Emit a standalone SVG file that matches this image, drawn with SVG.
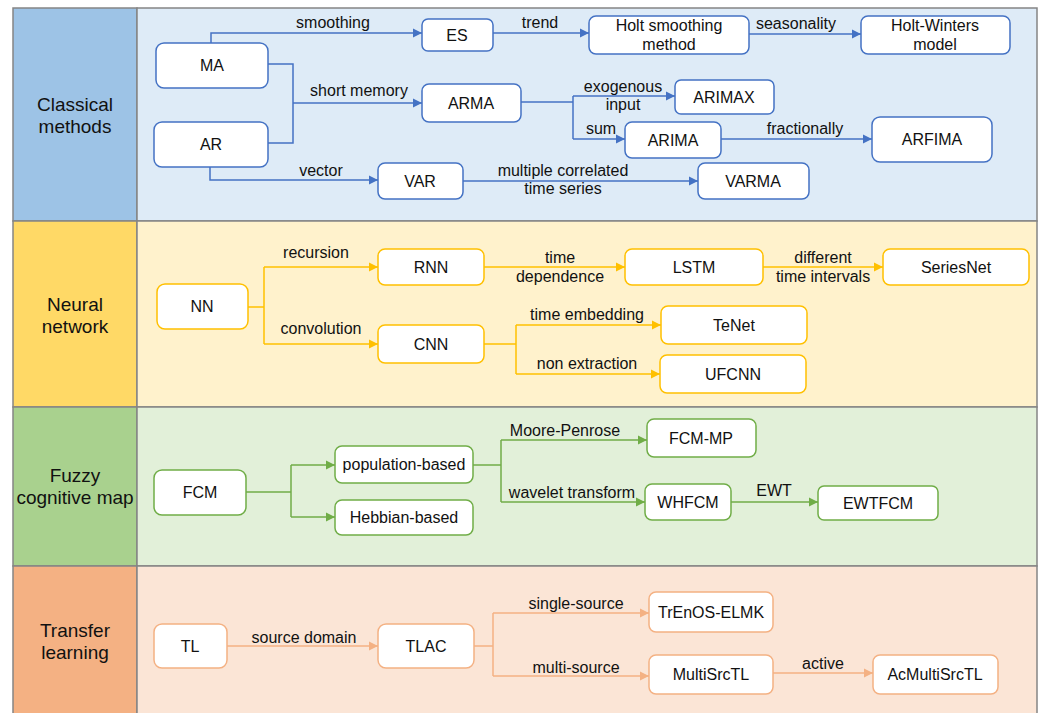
<svg xmlns="http://www.w3.org/2000/svg" width="1040" height="713" viewBox="0 0 1040 713">
<defs>
<style>
text{font-family:"Liberation Sans",Arial,sans-serif;fill:#111;}
.band{font-size:19px;text-anchor:middle;}
.nt{font-size:16px;text-anchor:middle;}
.lb{font-size:16px;text-anchor:middle;}
.frame{stroke:#858585;stroke-width:1.5;}
.n{fill:#fff;stroke-width:1.5;}
.bl{stroke:#4472C4;} .yl{stroke:#FFC000;} .gr{stroke:#70AD47;} .or{stroke:#F4B183;}
.c{fill:none;stroke-width:1.5;}
</style>
<marker id="ab" viewBox="0 0 10 10" refX="10" refY="5" markerWidth="9" markerHeight="10" markerUnits="userSpaceOnUse" orient="auto"><path d="M0,0L10,5L0,10z" fill="#4472C4"/></marker>
<marker id="ay" viewBox="0 0 10 10" refX="10" refY="5" markerWidth="9" markerHeight="10" markerUnits="userSpaceOnUse" orient="auto"><path d="M0,0L10,5L0,10z" fill="#FFC000"/></marker>
<marker id="ag" viewBox="0 0 10 10" refX="10" refY="5" markerWidth="9" markerHeight="10" markerUnits="userSpaceOnUse" orient="auto"><path d="M0,0L10,5L0,10z" fill="#70AD47"/></marker>
<marker id="ao" viewBox="0 0 10 10" refX="10" refY="5" markerWidth="9" markerHeight="10" markerUnits="userSpaceOnUse" orient="auto"><path d="M0,0L10,5L0,10z" fill="#F4B183"/></marker>
</defs>
<rect width="1040" height="713" fill="#fff"/>
<g id="bands">
<rect class="frame" x="13" y="8" width="124" height="213" fill="#9DC3E6"/>
<rect class="frame" x="137" y="8" width="900" height="213" fill="#DEEBF7"/>
<rect class="frame" x="13" y="221" width="124" height="186" fill="#FFD966"/>
<rect class="frame" x="137" y="221" width="900" height="186" fill="#FFF2CC"/>
<rect class="frame" x="13" y="407" width="124" height="159" fill="#A9D18E"/>
<rect class="frame" x="137" y="407" width="900" height="159" fill="#E2F0D9"/>
<rect class="frame" x="13" y="566" width="124" height="160" fill="#F4B183"/>
<rect class="frame" x="137" y="566" width="900" height="160" fill="#FBE5D6"/>
<text class="band" x="75" y="111">Classical</text><text class="band" x="75" y="133">methods</text>
<text class="band" x="75" y="311">Neural</text><text class="band" x="75" y="333">network</text>
<text class="band" x="75" y="482">Fuzzy</text><text class="band" x="75" y="504">cognitive map</text>
<text class="band" x="75" y="637">Transfer</text><text class="band" x="75" y="659">learning</text>
</g>
<g id="connectors">
<g class="c bl">
<path d="M211,43V33H422" marker-end="url(#ab)"/>
<path d="M493,33H589" marker-end="url(#ab)"/>
<path d="M749,34H861" marker-end="url(#ab)"/>
<path d="M268,64H293V143H268"/>
<path d="M293,103H422" marker-end="url(#ab)"/>
<path d="M521,102H573"/>
<path d="M573,96V139"/>
<path d="M573,96H675" marker-end="url(#ab)"/>
<path d="M573,139H625" marker-end="url(#ab)"/>
<path d="M721,139H872" marker-end="url(#ab)"/>
<path d="M210,167V180H378" marker-end="url(#ab)"/>
<path d="M463,181H698" marker-end="url(#ab)"/>
</g>
<g class="c yl">
<path d="M248,307H264"/>
<path d="M264,267V344"/>
<path d="M264,267H378" marker-end="url(#ay)"/>
<path d="M264,344H378" marker-end="url(#ay)"/>
<path d="M484,267H625" marker-end="url(#ay)"/>
<path d="M763,267H883" marker-end="url(#ay)"/>
<path d="M484,344H516"/>
<path d="M516,325V374"/>
<path d="M516,325H661" marker-end="url(#ay)"/>
<path d="M516,374H660" marker-end="url(#ay)"/>
</g>
<g class="c gr">
<path d="M246,492H291"/>
<path d="M291,465V517"/>
<path d="M291,465H335" marker-end="url(#ag)"/>
<path d="M291,517H335" marker-end="url(#ag)"/>
<path d="M473,465H501"/>
<path d="M501,440V502"/>
<path d="M501,440H647" marker-end="url(#ag)"/>
<path d="M501,502H645" marker-end="url(#ag)"/>
<path d="M731,502H818" marker-end="url(#ag)"/>
</g>
<g class="c or">
<path d="M227,646H378" marker-end="url(#ao)"/>
<path d="M474,646H493"/>
<path d="M493,613V676"/>
<path d="M493,613H649" marker-end="url(#ao)"/>
<path d="M493,676H649" marker-end="url(#ao)"/>
<path d="M773,673H873" marker-end="url(#ao)"/>
</g>
<g id="edge-labels">
<text class="lb" x="333" y="28">smoothing</text>
<text class="lb" x="540" y="28">trend</text>
<text class="lb" x="796" y="29">seasonality</text>
<text class="lb" x="359" y="96">short memory</text>
<text class="lb" x="623" y="92">exogenous</text><text class="lb" x="623" y="110">input</text>
<text class="lb" x="601" y="134">sum</text>
<text class="lb" x="805" y="134">fractionally</text>
<text class="lb" x="321" y="176">vector</text>
<text class="lb" x="563" y="176">multiple correlated</text><text class="lb" x="563" y="194">time series</text>
<text class="lb" x="316" y="258">recursion</text>
<text class="lb" x="321" y="334">convolution</text>
<text class="lb" x="560" y="263">time</text><text class="lb" x="560" y="282">dependence</text>
<text class="lb" x="823" y="263">different</text><text class="lb" x="823" y="282">time intervals</text>
<text class="lb" x="587" y="320">time embedding</text>
<text class="lb" x="587" y="369">non extraction</text>
<text class="lb" x="565" y="436">Moore-Penrose</text>
<text class="lb" x="572" y="498">wavelet transform</text>
<text class="lb" x="774" y="496">EWT</text>
<text class="lb" x="304" y="643">source domain</text>
<text class="lb" x="576" y="609">single-source</text>
<text class="lb" x="576" y="673">multi-source</text>
<text class="lb" x="823" y="669">active</text>
</g>
</g>
<g id="node-MA"><rect class="n bl" x="156" y="43" width="112" height="45" rx="8"/><text class="nt" x="212" y="71">MA</text></g>
<g id="node-AR"><rect class="n bl" x="154" y="122" width="114" height="45" rx="8"/><text class="nt" x="211" y="150">AR</text></g>
<g id="node-ES"><rect class="n bl" x="422" y="19" width="71" height="32" rx="6"/><text class="nt" x="457" y="41">ES</text></g>
<g id="node-ARMA"><rect class="n bl" x="422" y="84" width="99" height="38" rx="7"/><text class="nt" x="471" y="109">ARMA</text></g>
<g id="node-VAR"><rect class="n bl" x="378" y="163" width="85" height="36" rx="7"/><text class="nt" x="420" y="187">VAR</text></g>
<g id="node-Holt"><rect class="n bl" x="589" y="16" width="160" height="38" rx="7"/><text class="nt" x="669" y="31">Holt smoothing</text><text class="nt" x="669" y="50">method</text></g>
<g id="node-HW"><rect class="n bl" x="861" y="16" width="149" height="38" rx="7"/><text class="nt" x="935" y="31">Holt-Winters</text><text class="nt" x="935" y="50">model</text></g>
<g id="node-ARIMAX"><rect class="n bl" x="675" y="80" width="99" height="34" rx="6"/><text class="nt" x="724" y="103">ARIMAX</text></g>
<g id="node-ARIMA"><rect class="n bl" x="625" y="122" width="96" height="36" rx="7"/><text class="nt" x="673" y="146">ARIMA</text></g>
<g id="node-ARFIMA"><rect class="n bl" x="872" y="117" width="120" height="45" rx="8"/><text class="nt" x="932" y="145">ARFIMA</text></g>
<g id="node-VARMA"><rect class="n bl" x="698" y="163" width="111" height="36" rx="7"/><text class="nt" x="753" y="187">VARMA</text></g>
<g id="node-NN"><rect class="n yl" x="157" y="284" width="91" height="45" rx="8"/><text class="nt" x="202" y="312">NN</text></g>
<g id="node-RNN"><rect class="n yl" x="378" y="249" width="106" height="36" rx="7"/><text class="nt" x="431" y="273">RNN</text></g>
<g id="node-CNN"><rect class="n yl" x="378" y="325" width="106" height="38" rx="7"/><text class="nt" x="431" y="350">CNN</text></g>
<g id="node-LSTM"><rect class="n yl" x="625" y="249" width="138" height="36" rx="7"/><text class="nt" x="694" y="273">LSTM</text></g>
<g id="node-SeriesNet"><rect class="n yl" x="883" y="249" width="146" height="36" rx="7"/><text class="nt" x="956" y="273">SeriesNet</text></g>
<g id="node-TeNet"><rect class="n yl" x="661" y="306" width="146" height="38" rx="7"/><text class="nt" x="734" y="331">TeNet</text></g>
<g id="node-UFCNN"><rect class="n yl" x="660" y="355" width="146" height="38" rx="7"/><text class="nt" x="733" y="380">UFCNN</text></g>
<g id="node-FCM"><rect class="n gr" x="154" y="470" width="92" height="45" rx="8"/><text class="nt" x="200" y="498">FCM</text></g>
<g id="node-pop"><rect class="n gr" x="335" y="446" width="138" height="37" rx="7"/><text class="nt" x="404" y="470">population-based</text></g>
<g id="node-hebb"><rect class="n gr" x="335" y="500" width="138" height="35" rx="7"/><text class="nt" x="404" y="523">Hebbian-based</text></g>
<g id="node-FCMMP"><rect class="n gr" x="647" y="419" width="109" height="38" rx="7"/><text class="nt" x="701" y="444">FCM-MP</text></g>
<g id="node-WHFCM"><rect class="n gr" x="645" y="484" width="86" height="36" rx="7"/><text class="nt" x="688" y="508">WHFCM</text></g>
<g id="node-EWTFCM"><rect class="n gr" x="818" y="486" width="120" height="34" rx="6"/><text class="nt" x="878" y="509">EWTFCM</text></g>
<g id="node-TL"><rect class="n or" x="154" y="624" width="73" height="44" rx="8"/><text class="nt" x="190" y="652">TL</text></g>
<g id="node-TLAC"><rect class="n or" x="378" y="624" width="96" height="44" rx="8"/><text class="nt" x="426" y="652">TLAC</text></g>
<g id="node-TrEnOS"><rect class="n or" x="649" y="592" width="124" height="40" rx="7"/><text class="nt" x="711" y="618">TrEnOS-ELMK</text></g>
<g id="node-MultiSrcTL"><rect class="n or" x="649" y="655" width="124" height="39" rx="7"/><text class="nt" x="711" y="680">MultiSrcTL</text></g>
<g id="node-AcMultiSrcTL"><rect class="n or" x="873" y="655" width="125" height="39" rx="7"/><text class="nt" x="935" y="680">AcMultiSrcTL</text></g>
</svg>
